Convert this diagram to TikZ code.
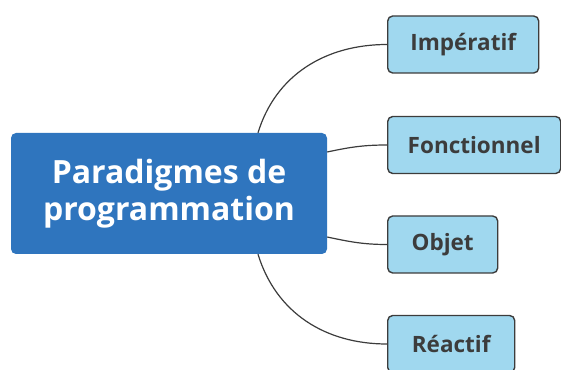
\documentclass[tikz,border=0pt]{standalone}
\usepackage{fontspec}
\setmainfont{Open Sans}
\definecolor{mainblue}{RGB}{47,117,190}
\definecolor{leafblue}{RGB}{160,216,239}
\definecolor{leafgray}{RGB}{60,60,60}
\tikzset{
    mainbox/.style={fill=mainblue,rounded corners=5pt,text=white,align=center,
        minimum width=316pt,minimum height=121pt,inner sep=0pt,
        font=\fontsize{32}{37}\selectfont\bfseries},
    leafbox/.style={fill=leafblue,draw=leafgray,line width=1.4pt,rounded corners=5pt,
        text=leafgray,anchor=west,minimum height=57pt,inner sep=0pt,
        font=\fontsize{22.5}{26}\selectfont\bfseries},
    branch/.style={draw=leafgray,line width=1.2pt}
}
\begin{document}
\begin{tikzpicture}[x=1pt,y=1pt]
    \clip (0,0) rectangle (561,369);
    \node[mainbox] (para) at (169,175.5) {Paradigmes de\\programmation};
    \node[leafbox,minimum width=151pt] (imp) at (387,324.5) {Impératif};
    \node[leafbox,minimum width=173pt] (fon) at (387,224) {Fonctionnel};
    \node[leafbox,minimum width=110pt] (obj) at (387,124.5) {Objet};
    \node[leafbox,minimum width=127pt] (rea) at (387,25) {Réactif};
    % branches
    \path[branch] ([xshift=89pt]para.north) to[out=73,in=180] (imp.west);
    \path[branch] ([yshift=41.5pt]para.east) to[out=12,in=180] (fon.west);
    \path[branch] ([yshift=-43.5pt]para.east) to[out=-12,in=180] (obj.west);
    \path[branch] ([xshift=89pt]para.south) to[out=-73,in=180] (rea.west);
\end{tikzpicture}
\end{document}
